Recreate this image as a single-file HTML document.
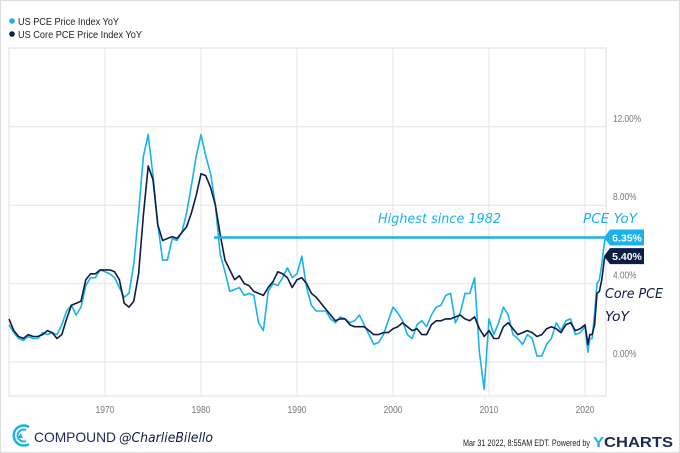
<!DOCTYPE html>
<html><head><meta charset="utf-8">
<style>
body{margin:0;background:#fff;}
#wrap{position:relative;width:678px;height:451px;border:1px solid #ddd;overflow:hidden;font-family:"Liberation Sans",sans-serif;background:#fff}
svg{position:absolute;left:0;top:0}
</style></head><body>
<div id="wrap">
<svg id="chart" width="680" height="453"></svg>
</div>
<script>
const pceYears=[1960,1960.5,1961,1961.5,1962,1962.5,1963,1963.5,1964,1964.5,1965,1965.5,1966,1966.5,1967,1967.5,1968,1968.5,1969,1969.5,1970,1970.5,1971,1971.5,1972,1972.5,1973,1973.5,1974,1974.5,1975,1975.5,1976,1976.5,1977,1977.5,1978,1978.5,1979,1979.5,1980,1980.5,1981,1981.5,1982,1982.5,1983,1983.5,1984,1984.5,1985,1985.5,1986,1986.5,1987,1987.5,1988,1988.5,1989,1989.5,1990,1990.5,1991,1991.5,1992,1992.5,1993,1993.5,1994,1994.5,1995,1995.5,1996,1996.5,1997,1997.5,1998,1998.5,1999,1999.5,2000,2000.5,2001,2001.5,2002,2002.5,2003,2003.5,2004,2004.5,2005,2005.5,2006,2006.5,2007,2007.5,2008,2008.5,2009,2009.5,2010,2010.5,2011,2011.5,2012,2012.5,2013,2013.5,2014,2014.5,2015,2015.5,2016,2016.5,2017,2017.5,2018,2018.5,2019,2019.5,2020,2020.3,2020.5,2020.75,2021,2021.25,2021.5,2021.75,2022,2022.1];
const pceValues=[1.9,1.5,1.2,1.1,1.3,1.2,1.2,1.5,1.4,1.5,1.4,1.9,2.6,2.9,2.4,2.8,3.9,4.3,4.3,4.7,4.6,4.5,4.3,3.8,3.3,3.5,5.0,7.6,10.5,11.6,9.5,7.0,5.2,5.2,6.3,6.2,6.6,7.6,9.0,10.5,11.6,10.5,9.6,8.0,5.5,4.6,3.6,3.7,3.8,3.4,3.5,3.4,2.0,1.6,3.6,4.0,3.9,4.3,4.8,4.3,4.5,5.4,3.8,2.9,2.6,2.6,2.6,2.2,2.0,2.3,2.2,2.0,2.1,2.4,1.9,1.4,0.9,1.0,1.4,2.1,2.8,2.5,2.1,1.4,1.2,1.9,2.1,1.8,2.4,2.8,2.9,3.4,3.5,2.0,2.5,3.5,3.5,4.3,0.5,-1.4,2.2,1.4,2.0,2.8,2.4,1.4,1.2,0.9,1.4,1.2,0.3,0.3,0.9,1.2,2.0,1.6,2.1,2.2,1.4,1.5,1.8,0.5,1.2,1.2,2.5,4.0,4.2,5.0,6.0,6.35];
const coreValues=[2.2,1.6,1.3,1.2,1.4,1.3,1.3,1.4,1.6,1.5,1.2,1.4,2.2,2.9,3.0,3.1,4.2,4.5,4.5,4.7,4.7,4.7,4.6,4.2,3.0,2.8,3.1,4.5,7.5,10.0,9.3,7.0,6.2,6.3,6.4,6.3,6.6,6.9,7.6,8.5,9.6,9.5,8.9,8.0,6.5,5.2,4.7,4.2,4.4,4.0,3.9,3.6,3.5,3.4,3.8,4.1,4.6,4.5,4.3,3.8,4.2,4.3,4.0,3.5,3.3,3.0,2.7,2.4,2.1,2.2,2.2,1.9,1.8,1.8,1.8,1.6,1.4,1.4,1.5,1.5,1.7,1.8,2.0,1.8,1.6,1.7,1.4,1.4,1.9,2.1,2.1,2.2,2.2,2.3,2.4,2.2,2.1,2.3,1.7,1.3,1.6,1.2,1.2,1.8,2.0,1.7,1.4,1.5,1.6,1.5,1.3,1.4,1.7,1.8,1.7,1.5,1.9,2.0,1.6,1.7,1.9,0.9,1.4,1.4,1.9,3.5,3.6,4.2,5.2,5.40];
const yTicks=[0,4,8,12];
const yTickLabels=["0.00%","4.00%","8.00%","12.00%"];
const xTicks=[1970,1980,1990,2000,2010,2020];
const xTickLabels=["1970","1980","1990","2000","2010","2020"];

const NS="http://www.w3.org/2000/svg";
const svg=document.getElementById('chart');
const X0=8,X1=605,Y0=47,Y1=395;
function xs(yr){return 8+(yr-1960)*9.6;}
function ys(v){return 361-v*19.6;}
function el(tag,attrs,parent){const e=document.createElementNS(NS,tag);for(const k in attrs)e.setAttribute(k,attrs[k]);(parent||svg).appendChild(e);return e;}

// legend
let d=el('circle',{cx:11,cy:20,r:2.8,fill:'#19b3ea'});


let t=el('text',{x:17,y:24,'font-size':10.5,fill:'#222',textLength:101,lengthAdjust:'spacingAndGlyphs'});t.textContent='US PCE Price Index YoY';


d=el('circle',{cx:11,cy:33,r:2.8,fill:'#0d1d45'});


t=el('text',{x:17,y:37,'font-size':10.5,fill:'#222',textLength:124,lengthAdjust:'spacingAndGlyphs'});t.textContent='US Core PCE Price Index YoY';



// frame
let f=el('rect',{x:X0,y:Y0,width:X1-X0,height:Y1-Y0,fill:'none',stroke:'#ddd'});


yTicks.forEach((v,i)=>{
  let g=el('line',{x1:X0,x2:X1,y1:ys(v),y2:ys(v),stroke:'#e6e6e6'});
  
  
  let l=el('text',{x:612,y:ys(v)-5,'font-size':10,fill:'#777',textLength:(yTickLabels[i].length*4.7),lengthAdjust:'spacingAndGlyphs'});l.textContent=yTickLabels[i];
  
  
});
xTicks.forEach((v,i)=>{
  let g=el('line',{x1:xs(v),x2:xs(v),y1:Y0,y2:Y1,stroke:'#e6e6e6'});
  
  
  let l=el('text',{x:xs(v),y:412,'font-size':10,fill:'#777','text-anchor':'middle',textLength:19,lengthAdjust:'spacingAndGlyphs'});l.textContent=xTickLabels[i];
  
  
});

function pathFor(vals){return vals.map((v,i)=>(i?'L':'M')+xs(pceYears[i]).toFixed(1)+','+ys(v).toFixed(1)).join('');}
let p1=el('path',{d:pathFor(pceValues),fill:'none',stroke:'#19b3ea','stroke-width':1.6,'stroke-linejoin':'round'});


let p2=el('path',{d:pathFor(coreValues),fill:'none',stroke:'#0d1d45','stroke-width':1.6,'stroke-linejoin':'round'});



const lastP=pceValues[pceValues.length-1], lastC=coreValues[coreValues.length-1];
let hl=el('line',{x1:213,x2:xs(2022.1),y1:ys(lastP),y2:ys(lastP),stroke:'#19b3ea','stroke-width':2.5});


const hand='"DejaVu Sans",sans-serif';
function ann(txt,x,y,w,color,name){
  let a=el('text',{x:x,y:y,'font-size':13,fill:color,'font-family':hand,'font-style':'italic',textLength:w,lengthAdjust:'spacingAndGlyphs'});a.textContent=txt;
  
  
}
ann('Highest since 1982',377,222,123,'#19b3ea','highest-annotation');
ann('PCE YoY',582,222,54,'#19b3ea','pce-yoy-annotation');
ann('Core PCE',604,297,58,'#0d1d45','core-pce-annotation');
ann('YoY',604,320,24,'#0d1d45','core-yoy-annotation');

function badge(v,color,name){
  const y=ys(v);
  let b=el('path',{d:`M603,${y} L609,${y-8} L643,${y-8} L643,${y+8} L609,${y+8} Z`,fill:color});
  
  
  let tt=el('text',{x:626,y:y+4,'font-size':10.5,'font-weight':'bold',fill:'#fff','text-anchor':'middle'});tt.textContent=v.toFixed(2)+'%';
  
  
}
badge(lastP,'#19b3ea','pce');
badge(lastC,'#0d1d45','core');

// footer
let lg=el('g',{});


el('path',{d:'M28,426 A10,10 0 1 0 28,443',fill:'none',stroke:'#19b3ea','stroke-width':2.5},lg);
el('path',{d:'M25,429 A6,6 0 1 0 25,440',fill:'none',stroke:'#19b3ea','stroke-width':2},lg);
el('path',{d:'M17,437 L19.5,432 L22,437 Z',fill:'#19b3ea'},lg);
t=el('text',{x:33,y:441,'font-size':14,fill:'#1a2a55',textLength:82,lengthAdjust:'spacingAndGlyphs'});t.textContent='COMPOUND';


t=el('text',{x:118,y:441,'font-size':13,fill:'#0d1d45','font-style':'italic','font-family':hand,textLength:94,lengthAdjust:'spacingAndGlyphs'});t.textContent='@CharlieBilello';


t=el('text',{x:462,y:445,'font-size':9,fill:'#222',textLength:127,lengthAdjust:'spacingAndGlyphs'});t.textContent='Mar 31 2022, 8:55AM EDT.  Powered by';


t=el('text',{x:592,y:446,'font-size':15,'font-weight':'bold',fill:'#1a2a55',textLength:80,lengthAdjust:'spacingAndGlyphs'});
t.innerHTML='<tspan fill="#19b3ea">Y</tspan>CHARTS';


</script>
</body></html>
